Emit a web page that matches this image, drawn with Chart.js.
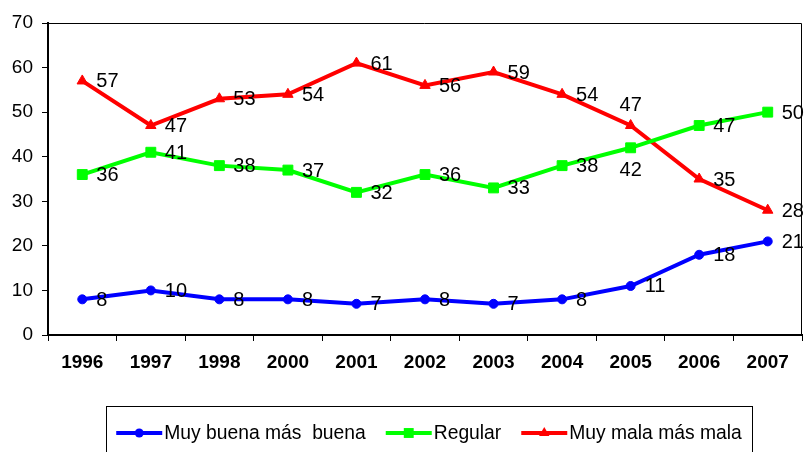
<!DOCTYPE html>
<html>
<head>
<meta charset="utf-8">
<script src="https://cdn.jsdelivr.net/npm/chart.js"></script>
<style>
  body { margin: 0; background: #fff; }
  #wrap { width: 805px; height: 452px; }
</style>
</head>
<body>
<div id="wrap"><canvas id="chart"></canvas></div>
<script>
const years = ['1996', '1997', '1998', '2000', '2001', '2002', '2003', '2004', '2005', '2006', '2007'];
const muyBuena = [8, 10, 8, 8, 7, 8, 7, 8, 11, 18, 21];
const regular = [36, 41, 38, 37, 32, 36, 33, 38, 42, 47, 50];
const muyMala = [57, 47, 53, 54, 61, 56, 59, 54, 47, 35, 28];
const seriesNames = ['Muy buena más  buena', 'Regular', 'Muy mala más mala'];

const FONT = 'Arial, "Liberation Sans", sans-serif';

// labels that sit somewhere other than right of the point
const labelMoves = {
  '2-8': { align: 'center', dx: 0, dy: -20 },
  '1-8': { align: 'center', dx: 0, dy: 23 }
};

function drawMarker(ctx, style, x, y, r) {
  ctx.beginPath();
  if (style === 'circle') {
    ctx.arc(x, y, r, 0, Math.PI * 2);
  } else if (style === 'rect') {
    const s = r * Math.SQRT1_2;
    ctx.rect(x - s, y - s, s * 2, s * 2);
  } else {
    const h = r * 1.5;
    const w = r * Math.sqrt(3) / 2;
    ctx.moveTo(x, y - r);
    ctx.lineTo(x + w, y + h - r);
    ctx.lineTo(x - w, y + h - r);
    ctx.closePath();
  }
  ctx.fill();
}

const valueLabels = {
  id: 'valueLabels',
  afterDatasetsDraw(chart) {
    const ctx = chart.ctx;
    ctx.save();
    ctx.font = '20px ' + FONT;
    ctx.fillStyle = '#000';
    ctx.textBaseline = 'middle';
    chart.data.datasets.forEach((ds, di) => {
      chart.getDatasetMeta(di).data.forEach((pt, i) => {
        const mv = labelMoves[di + '-' + i] || { align: 'left', dx: 14, dy: 1 };
        ctx.textAlign = mv.align;
        ctx.fillText(String(ds.data[i]), pt.x + mv.dx, pt.y + mv.dy);
      });
    });
    ctx.restore();
  }
};

const frameAndLegend = {
  id: 'frameAndLegend',
  afterDraw(chart) {
    const ctx = chart.ctx;
    const a = chart.chartArea;
    ctx.save();
    // top and right frame
    ctx.strokeStyle = '#000';
    ctx.lineWidth = 1;
    ctx.beginPath();
    ctx.moveTo(a.left, a.top + 0.5);
    ctx.lineTo(a.right - 0.5, a.top + 0.5);
    ctx.lineTo(a.right - 0.5, a.bottom);
    ctx.stroke();

    // legend
    ctx.font = '19.3px ' + FONT;
    ctx.textBaseline = 'middle';
    ctx.textAlign = 'left';
    const lineLen = 46, gap = 2, itemGap = 20, pad = 10;
    const items = chart.data.datasets.map(ds => ({
      ds: ds, w: lineLen + gap + ctx.measureText(ds.label).width
    }));
    const total = items.reduce((s, it) => s + it.w, 0) + itemGap * (items.length - 1);
    const cx = 429;
    let x = cx - total / 2;
    const y = 433;
    ctx.strokeRect(Math.round(x - pad) + 0.5, 406.5, Math.round(total + pad * 2), 60);
    items.forEach(it => {
      const ds = it.ds;
      ctx.strokeStyle = ds.borderColor;
      ctx.lineWidth = 4;
      ctx.beginPath();
      ctx.moveTo(x, y);
      ctx.lineTo(x + lineLen, y);
      ctx.stroke();
      ctx.fillStyle = ds.backgroundColor;
      drawMarker(ctx, ds.pointStyle, x + lineLen / 2, y, ds.pointRadius);
      ctx.fillStyle = '#000';
      ctx.fillText(ds.label, x + lineLen + gap, y + 1);
      x += it.w + itemGap;
    });
    ctx.restore();
  }
};

function series(label, data, color, style, radius) {
  return {
    label: label,
    data: data,
    borderColor: color,
    backgroundColor: color,
    borderWidth: 4,
    pointStyle: style,
    pointRadius: radius,
    pointBorderWidth: 1,
    pointBackgroundColor: color,
    pointBorderColor: color,
    tension: 0
  };
}

new Chart(document.getElementById('chart'), {
  type: 'line',
  data: {
    labels: years,
    datasets: [
      series(seriesNames[0], muyBuena, '#0000ff', 'circle', 4.5),
      series(seriesNames[1], regular, '#00ff00', 'rect', 7),
      series(seriesNames[2], muyMala, '#ff0000', 'triangle', 6)
    ]
  },
  options: {
    responsive: true,
    maintainAspectRatio: false,
    animation: false,
    layout: { autoPadding: false, padding: { top: 23, right: 3, left: 0, bottom: 0 } },
    plugins: {
      legend: { display: false },
      tooltip: { enabled: false }
    },
    scales: {
      x: {
        offset: true,
        grid: { offset: true, drawOnChartArea: false, tickLength: 6, tickColor: '#000', lineWidth: 1 },
        border: { color: '#000', width: 2 },
        ticks: { color: '#000', font: { family: FONT, size: 19, weight: 'bold' }, padding: 10, maxRotation: 0, autoSkip: false },
        afterFit: s => { s.height = 117; s.paddingLeft = 0; s.paddingRight = 0; }
      },
      y: {
        min: 0,
        max: 70,
        grid: { drawOnChartArea: false, tickLength: 6, tickColor: '#000', lineWidth: 1 },
        border: { color: '#000', width: 2 },
        ticks: { stepSize: 10, color: '#000', font: { family: FONT, size: 19 }, padding: 9 },
        afterFit: s => { s.width = 48; }
      }
    }
  },
  plugins: [valueLabels, frameAndLegend]
});
</script>
</body>
</html>
